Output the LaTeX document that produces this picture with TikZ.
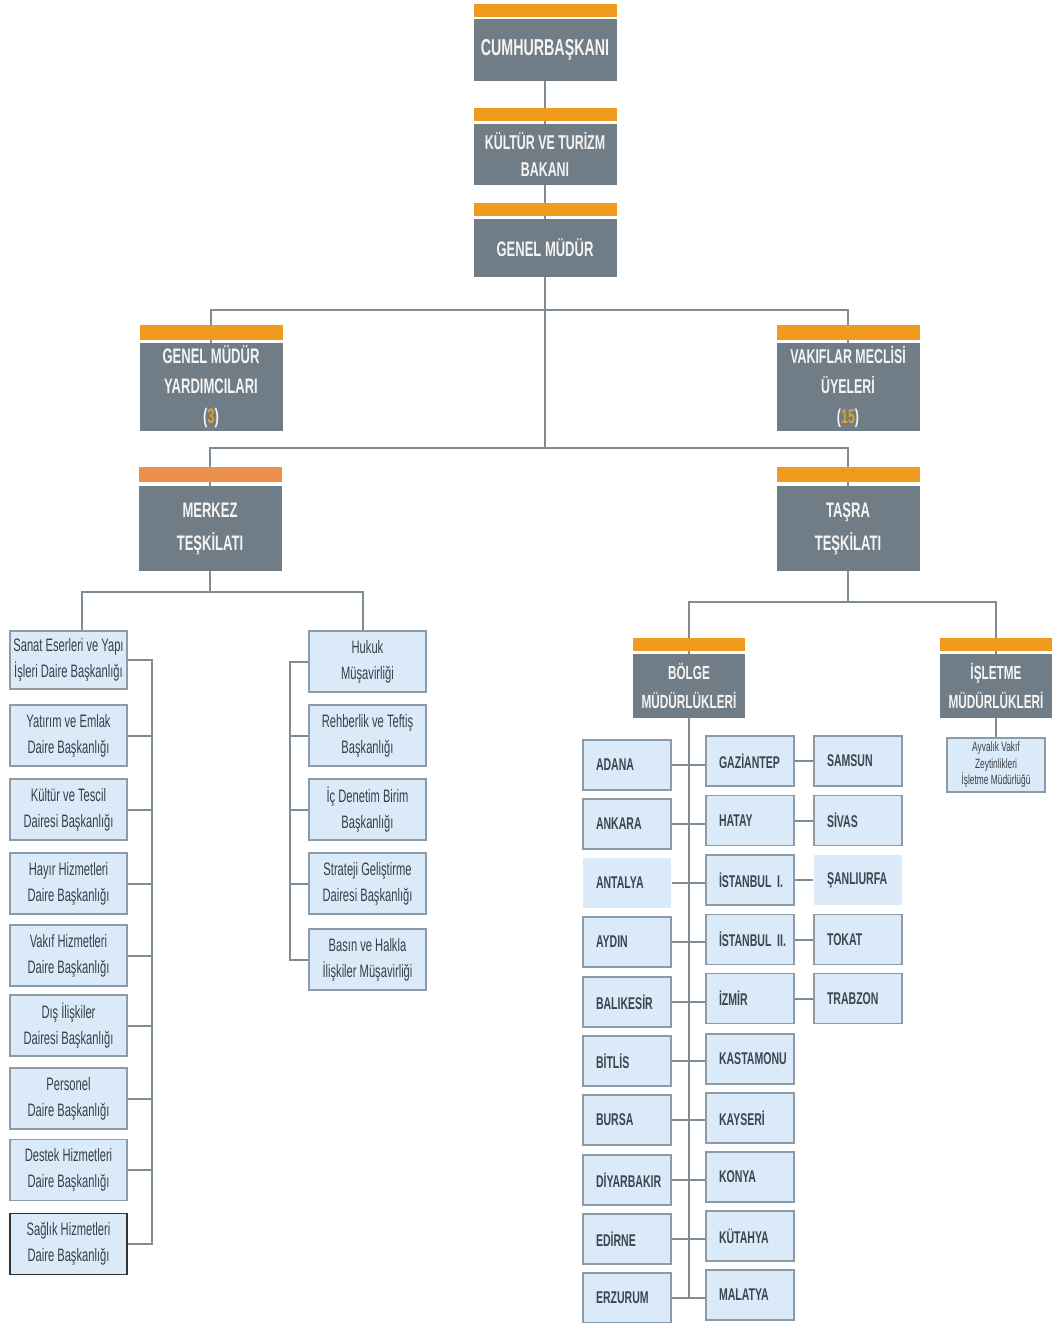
\documentclass[tikz,border=0pt]{standalone}
\usepackage{fontspec}
\setmainfont{Liberation Sans}[FakeStretch=0.62]
\usetikzlibrary{backgrounds}
\definecolor{slate}{HTML}{707D86}
\definecolor{barorange}{HTML}{F09B1E}
\definecolor{barlight}{HTML}{EB914B}
\definecolor{numorange}{HTML}{E0A02A}
\definecolor{hdrtext}{HTML}{F4F4F4}
\definecolor{lblue}{HTML}{DAEAF8}
\definecolor{bordergray}{HTML}{8C9BA5}
\definecolor{linegray}{HTML}{808C94}
\definecolor{unittext}{HTML}{3A3F46}
\definecolor{provtext}{HTML}{3F4550}
\tikzset{
  hdr/.style={fill=slate, text=hdrtext, font=\bfseries\fontsize{21}{30}\selectfont, align=center, inner sep=0pt, minimum width=143pt},
  unitbox/.style={fill=lblue, draw=bordergray, line width=1.2pt, text=unittext, font=\fontsize{18}{26}\selectfont, align=center, inner sep=0pt, minimum width=117pt, minimum height=61pt},
  prov/.style={fill=lblue, draw=bordergray, line width=1.2pt, text=provtext, font=\bfseries\fontsize{17}{20}\selectfont, inner sep=0pt, minimum width=88pt, minimum height=50pt, text width=62pt, align=left},
  link/.style={draw=linegray, line width=2pt},
  bar/.style={fill=barorange}
}
\begin{document}
\begin{tikzpicture}[x=1pt,y=-1pt]
\useasboundingbox (0,0) rectangle (1055,1323);
% top chain
\fill[bar] (473.5,4) rectangle (616.5,17);
\node[hdr, minimum height=62pt, font=\bfseries\fontsize{23}{30}\selectfont] (cb) at (545,50) {CUMHURBAŞKANI};
\fill[bar] (473.5,108) rectangle (616.5,121);
\node[hdr, minimum height=61pt, font=\bfseries\fontsize{20}{27}\selectfont] (kt) at (545,154.5) {KÜLTÜR VE TURİZM\\BAKANI};
\fill[bar] (473.5,203) rectangle (616.5,216);
\node[hdr, minimum height=58pt] (gm) at (545,248) {GENEL MÜDÜR};
% second level
\fill[bar] (139.5,325) rectangle (282.5,340);
\node[hdr, minimum height=88pt] (gmy) at (211,387) {GENEL MÜDÜR\\YARDIMCILARI\\({\color{numorange}3})};
\fill[bar] (776.5,325) rectangle (919.5,340);
\node[hdr, minimum height=88pt, font=\bfseries\fontsize{20}{30}\selectfont] (vmu) at (848,387) {VAKIFLAR MECLİSİ\\ÜYELERİ\\({\color{numorange}15})};
% third level
\fill[barlight] (138.5,467) rectangle (281.5,482);
\node[hdr, minimum height=85pt, font=\bfseries\fontsize{21}{33}\selectfont] (mrk) at (210,528.5) {MERKEZ\\TEŞKİLATI};
\fill[bar] (776.5,467) rectangle (919.5,482);
\node[hdr, minimum height=85pt, font=\bfseries\fontsize{21}{33}\selectfont] (tsr) at (848,528.5) {TAŞRA\\TEŞKİLATI};
% merkez units
\node[unitbox, minimum height=58pt] (s1) at (68.5,660) {Sanat Eserleri ve Yapı\\İşleri Daire Başkanlığı};
\node[unitbox] (s2) at (68.5,735.5) {Yatırım ve Emlak\\Daire Başkanlığı};
\node[unitbox] (s3) at (68.5,809.5) {Kültür ve Tescil\\Dairesi Başkanlığı};
\node[unitbox] (s4) at (68.5,883.5) {Hayır Hizmetleri\\Daire Başkanlığı};
\node[unitbox] (s5) at (68.5,955.5) {Vakıf Hizmetleri\\Daire Başkanlığı};
\node[unitbox] (s6) at (68.5,1025.5) {Dış İlişkiler\\Dairesi Başkanlığı};
\node[unitbox] (s7) at (68.5,1098.5) {Personel\\Daire Başkanlığı};
\node[unitbox] (s8) at (68.5,1170) {Destek Hizmetleri\\Daire Başkanlığı};
\node[unitbox, draw=black!80] (s9) at (68.5,1244) {Sağlık Hizmetleri\\Daire Başkanlığı};
\node[unitbox] (h1) at (367.5,661.5) {Hukuk\\Müşavirliği};
\node[unitbox] (h2) at (367.5,735.5) {Rehberlik ve Teftiş\\Başkanlığı};
\node[unitbox] (h3) at (367.5,809.5) {İç Denetim Birim\\Başkanlığı};
\node[unitbox] (h4) at (367.5,883.5) {Strateji Geliştirme\\Dairesi Başkanlığı};
\node[unitbox] (h5) at (367.5,959.5) {Basın ve Halkla\\İlişkiler Müşavirliği};
% tasra
\fill[bar] (633,638) rectangle (745,651);
\node[hdr, minimum width=112pt, minimum height=64pt, font=\bfseries\fontsize{19}{29}\selectfont] (blg) at (689,686) {BÖLGE\\MÜDÜRLÜKLERİ};
\fill[bar] (940,638) rectangle (1052,651);
\node[hdr, minimum width=112pt, minimum height=64pt, font=\bfseries\fontsize{19}{29}\selectfont] (isl) at (996,686) {İŞLETME\\MÜDÜRLÜKLERİ};
\node[unitbox, minimum width=98pt, minimum height=54pt, font=\fontsize{13.5}{16.5}\selectfont] (ayv) at (996,765) {Ayvalık Vakıf\\Zeytinlikleri\\İşletme Müdürlüğü};
% provinces left column
\node[prov] (p1) at (627,765) {ADANA};
\node[prov] (p2) at (627,824) {ANKARA};
\node[prov, draw=none] (p3) at (627,883) {ANTALYA};
\node[prov] (p4) at (627,942) {AYDIN};
\node[prov] (p5) at (627,1002) {BALIKESİR};
\node[prov] (p6) at (627,1061) {BİTLİS};
\node[prov] (p7) at (627,1120) {BURSA};
\node[prov] (p8) at (627,1180) {DİYARBAKIR};
\node[prov] (p9) at (627,1239) {EDİRNE};
\node[prov] (p10) at (627,1298) {ERZURUM};
% provinces middle column
\node[prov] (q1) at (750,761) {GAZİANTEP};
\node[prov] (q2) at (750,820.5) {HATAY};
\node[prov] (q3) at (750,880) {\mbox{İSTANBUL I.}};
\node[prov] (q4) at (750,939.5) {\mbox{İSTANBUL II.}};
\node[prov] (q5) at (750,998.5) {İZMİR};
\node[prov] (q6) at (750,1059) {KASTAMONU};
\node[prov] (q7) at (750,1118) {KAYSERİ};
\node[prov] (q8) at (750,1177) {KONYA};
\node[prov] (q9) at (750,1236) {KÜTAHYA};
\node[prov] (q10) at (750,1295) {MALATYA};
% provinces right column
\node[prov] (r1) at (858,761) {SAMSUN};
\node[prov] (r2) at (858,820.5) {SİVAS};
\node[prov, draw=none] (r3) at (858,880) {ŞANLIURFA};
\node[prov] (r4) at (858,939.5) {TOKAT};
\node[prov] (r5) at (858,998.5) {TRABZON};
% connectors
\begin{pgfonlayer}{background}
\fill[white] (0,0) rectangle (1055,1323);
\coordinate (j1) at (545,310);
\coordinate (j2) at (545,448);
\coordinate (m1) at (210,592);
\coordinate (t1) at (848,602);
\draw[link] (cb.south) -- (kt.north);
\draw[link] (kt.south) -- (gm.north);
\draw[link] (gm.south) -- (j2);
\draw[link] (gmy.north) |- (j1) -| (vmu.north);
\draw[link] (mrk.north) |- (j2) -| (tsr.north);
\draw[link] (mrk.south) -- (m1);
\draw[link] ([xshift=13.5pt]s1.north) |- (m1) -| ([xshift=-4.5pt]h1.north);
\draw[link] (s1.east) -- ++(24,0) |- (s9.east);
\foreach \i in {2,...,8} {\draw[link] (s\i.east) -- ++(24,0);}
\draw[link] (h1.west) -- ++(-18,0) |- (h5.west);
\foreach \i in {2,3,4} {\draw[link] (h\i.west) -- ++(-18,0);}
\draw[link] (tsr.south) -- (t1);
\draw[link] (blg.north) |- (t1) -| (isl.north);
\draw[link] (isl.south) -- (ayv.north);
\draw[link] (blg.south) -- (blg.south |- p10.east);
\foreach \i in {1,...,10} {\draw[link] (p\i.east) -- (p\i.east -| q\i.west);}
\foreach \i in {1,...,5} {\draw[link] (q\i.east) -- (r\i.west);}
\end{pgfonlayer}
\end{tikzpicture}
\end{document}
